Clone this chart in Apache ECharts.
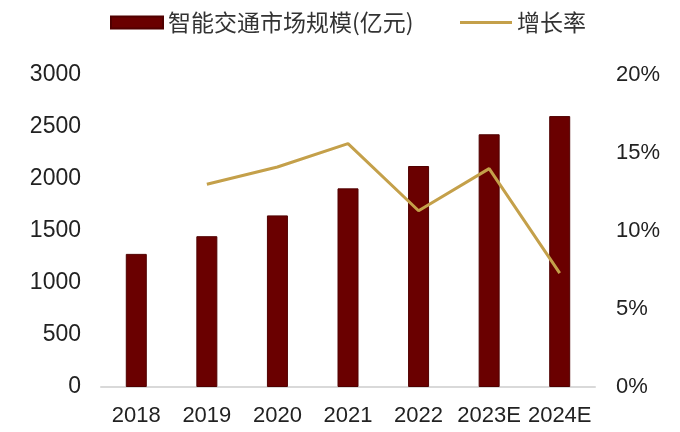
<!DOCTYPE html>
<html>
<head>
<meta charset="utf-8">
<script src="https://cdn.jsdelivr.net/npm/echarts@6/dist/echarts.min.js"></script>
<style>
  html, body { margin: 0; padding: 0; background: #fff; }
  #chart { width: 680px; height: 432px; }
</style>
</head>
<body>
<div id="chart"></div>
<script>
// Years and values for the smart-transport market
const years = ['2018', '2019', '2020', '2021', '2022', '2023E', '2024E'];
const marketSize = [1280, 1450, 1650, 1910, 2125, 2430, 2605];       // 亿元
const growthRate = [null, 13.0, 14.1, 15.6, 11.3, 14.0, 7.3];        // %

const barName = '智能交通市场规模(亿元)';
const lineName = '增长率';

const barColor = '#6a0000';
const lineColor = '#c4a04a';

const chart = echarts.init(document.getElementById('chart'));
const axisFont = { fontFamily: 'Liberation Sans, Arial, sans-serif', fontSize: 22, color: '#222' };
const legendFont = { fontFamily: 'Noto Sans CJK SC, sans-serif', fontSize: 23, color: '#333' };

chart.setOption({
  backgroundColor: '#fff',
  animation: false,
  legend: [
    {
      left: 105, top: 6,
      itemWidth: 52, itemHeight: 12, itemGap: 8,
      textStyle: legendFont,
      data: [{ name: barName, icon: 'rect' }]
    },
    {
      left: 455, top: 6,
      itemWidth: 52, itemHeight: 3, itemGap: 6,
      textStyle: legendFont,
      data: [{ name: lineName, icon: 'rect' }]
    }
  ],
  grid: { left: 101, right: 85, top: 75, bottom: 45 },
  xAxis: {
    type: 'category',
    data: years,
    axisTick: { show: false },
    axisLine: { lineStyle: { color: '#d9d9d9', width: 2 } },
    axisLabel: Object.assign({ margin: 18, interval: 0, hideOverlap: false }, axisFont)
  },
  yAxis: [
    {
      type: 'value', min: 0, max: 3000, interval: 500,
      axisLine: { show: false }, axisTick: { show: false },
      splitLine: { show: false },
      axisLabel: Object.assign({ margin: 20, formatter: v => String(v) }, axisFont, { fontSize: 23 })
    },
    {
      type: 'value', min: 0, max: 20, interval: 5,
      axisLine: { show: false }, axisTick: { show: false },
      splitLine: { show: false },
      axisLabel: Object.assign({ margin: 21, formatter: '{value}%' }, axisFont)
    }
  ],
  series: [
    {
      name: barName,
      type: 'bar',
      data: marketSize,
      barWidth: 21,
      itemStyle: { color: barColor, borderColor: '#500000', borderWidth: 1 }
    },
    {
      name: lineName,
      type: 'line',
      yAxisIndex: 1,
      data: growthRate,
      symbol: 'none',
      lineStyle: { color: lineColor, width: 3 },
      itemStyle: { color: lineColor }
    }
  ]
});
</script>
</body>
</html>
